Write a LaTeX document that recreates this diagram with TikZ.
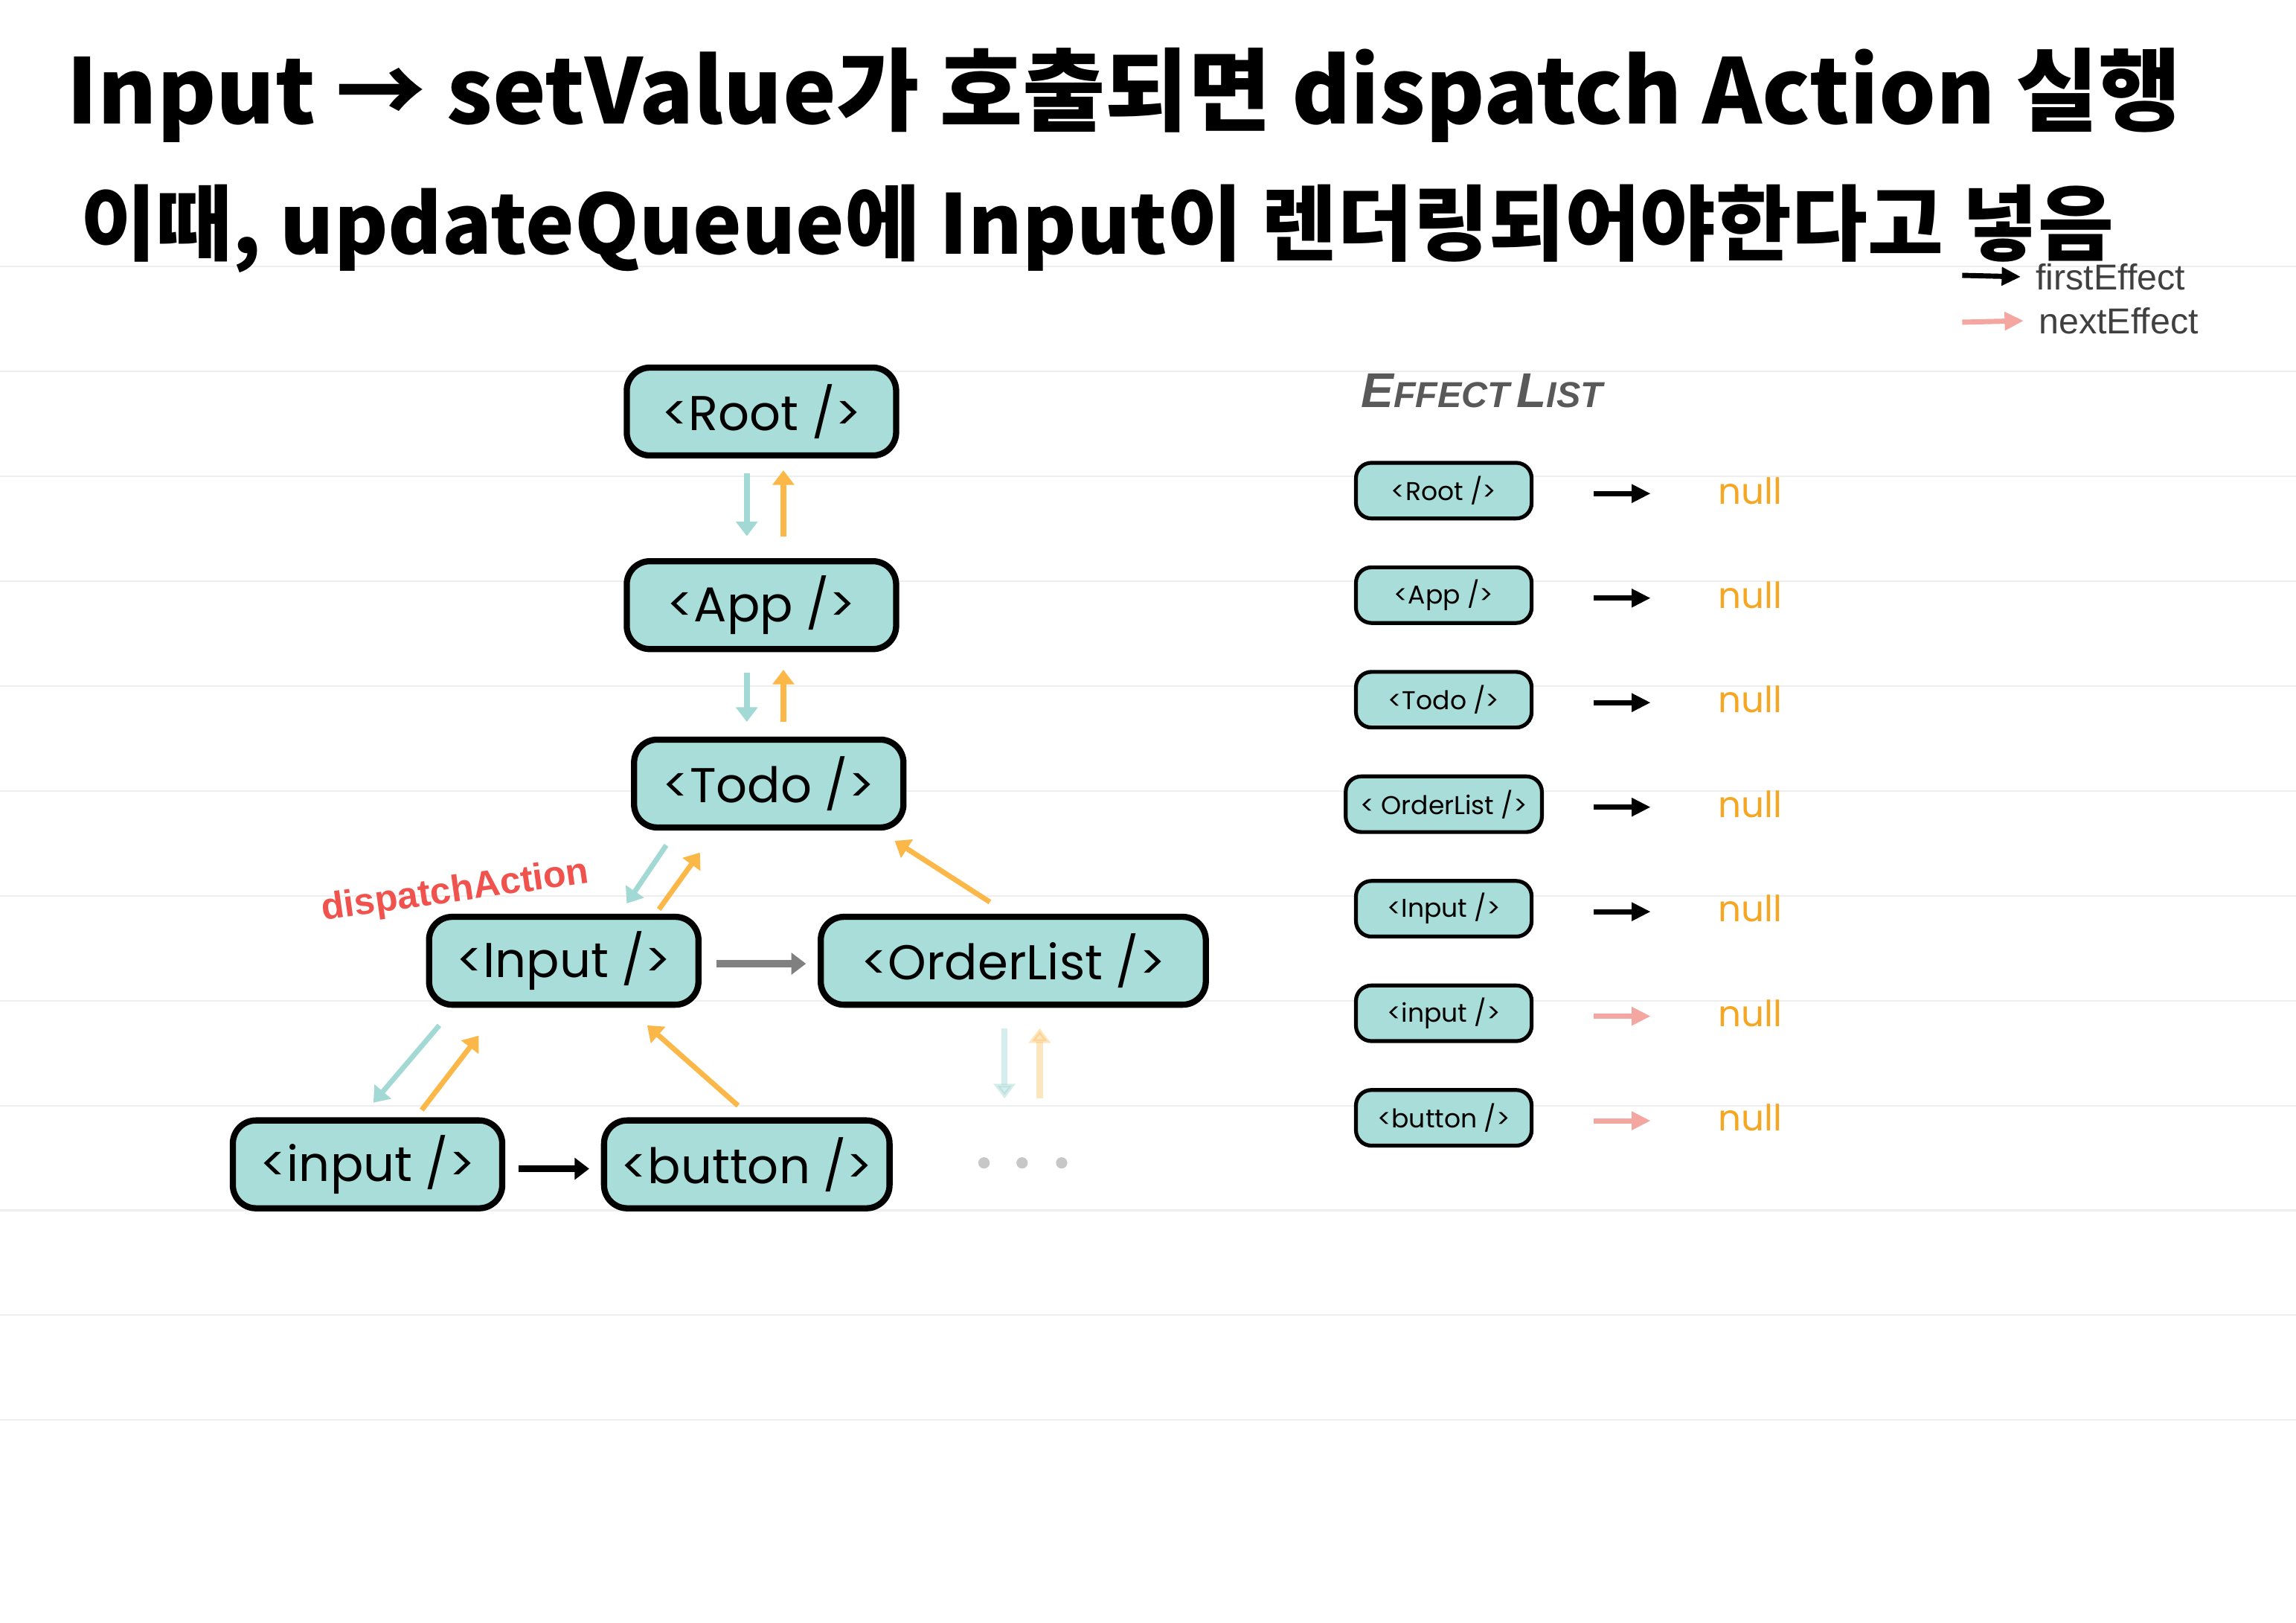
\documentclass[tikz,border=0pt]{standalone}
\usepackage{fontspec}
\usepackage{xcolor}
\usepackage{tikz}
\usetikzlibrary{arrows.meta,positioning}

\setmainfont{Poppins}
\newfontfamily\krfont{Noto Sans CJK KR}
\newfontfamily\labelfont{Liberation Sans}

\definecolor{fibteal}{HTML}{A8DDD9}
\definecolor{downteal}{HTML}{A3D9D5}
\definecolor{uporange}{HTML}{FBB848}
\definecolor{nullorange}{HTML}{F5A623}
\definecolor{dispred}{HTML}{F0524E}
\definecolor{nextpink}{HTML}{F4A6A1}
\definecolor{rulegray}{HTML}{EEEEEE}

\begin{document}
\begin{tikzpicture}[x=0.02cm,y=-0.02cm,
fibbox/.style={draw,line width=2.4pt,rounded corners=9pt,fill=fibteal,minimum width=3.68cm,minimum height=1.2cm,inner sep=2pt,font=\fontsize{19}{22}\selectfont},
effbox/.style={draw,line width=1.5pt,rounded corners=6pt,fill=fibteal,minimum width=2.4cm,minimum height=0.76cm,inner sep=0pt,font=\fontsize{10}{12}\selectfont},
downarr/.style={-{Triangle[length=2mm,width=2.9mm]},line width=2.4pt,downteal},
uparr/.style={-{Triangle[length=2mm,width=2.9mm]},line width=2.4pt,uporange},
sibarr/.style={-{Triangle[length=2mm,width=2.9mm]},line width=2.8pt},
firstarr/.style={-{Triangle[length=2.6mm,width=2.4mm]},line width=2pt,black},
nextarr/.style={firstarr,nextpink},
nul/.style={font=\fontsize{14}{16}\selectfont,text=nullorange,inner sep=0pt},
legend/.style={font=\labelfont\fontsize{14}{16}\selectfont,text=black!75,inner sep=0.2cm,anchor=west},
hand/.style={font=\krfont\bfseries\fontsize{35}{40}\selectfont,anchor=west,inner sep=0pt}]
\useasboundingbox (0,0) rectangle (1568,1108);
\fill[white] (0,0) rectangle (1568,1108);
% ruled paper
\foreach \k in {0,...,11}
  \draw[rulegray,line width=0.6pt] (0,182+71.6*\k) -- (1568,182+71.6*\k);

% handwritten note
\node[hand] (line1) at (45,65) {Input → setValue가 호출되면 dispatch Action 실행};
\node[hand,font=\krfont\bfseries\fontsize{32}{38}\selectfont] (line2) at (55,156) {이때, updateQueue에 Input이 렌더링되어야한다고 넣음};

% legend
\coordinate (lgfirst) at (1340,188);
\coordinate (lgnext) at (1340,220);
\node[legend] (lfirst) at (1380,189) {firstEffect};
\node[legend] (lnext) at (1382,219) {nextEffect};
\draw[firstarr] (lgfirst) -- (lfirst.west);
\draw[nextarr] (lgnext) -- (lnext.west);

% fiber tree
\node[fibbox] (root) at (520,281) {<Root />};
\node[fibbox,below=1.36cm of root] (app) {<App />};
\node[fibbox] (todo) at (525,535) {<Todo />};
\node[fibbox] (input) at (385,656) {<Input />};
\node[fibbox,minimum width=5.26cm] (order) at (692,656) {<OrderList />};
\node[fibbox] (inp) at (251,795) {<input />};
\node[fibbox,minimum width=3.9cm] (button) at (510,795) {<button />};
\coordinate (more) at (698,794);
\foreach \dx in {-26,0,27} \fill[black!22] (698+\dx,794) circle (2.2pt);
\node[font=\labelfont\bfseries\fontsize{14.5}{16}\selectfont,text=dispred,rotate=8] (dispatch) at (311,609) {dispatchAction};

\draw[downarr] ([shift={(-10,10)}]root.south) -- ([shift={(-10,-15)}]app.north);
\draw[uparr] ([shift={(15,-15)}]app.north) -- ([shift={(15,8)}]root.south);
\draw[downarr] ([shift={(-10,14)}]app.south) -- ([shift={(-15,-10)}]todo.north);
\draw[uparr] ([shift={(10,-10)}]todo.north) -- ([shift={(15,12)}]app.south);
\draw[downarr,line width=2pt] ([shift={(-70,10)}]todo.south) -- ([shift={(43,-7)}]input.north);
\draw[uparr,line width=2pt] ([shift={(65,-3)}]input.north) -- ([shift={(-47,15)}]todo.south);
\draw[uparr,line width=2pt] ([shift={(-16,-8)}]order.north) -- ([shift={(86,7)}]todo.south);
\draw[sibarr,black!50] ([shift={(10,2)}]input.east) -- ([shift={(-8,2)}]order.west);
\draw[downarr,line width=2pt] ([shift={(-85,12)}]input.south) -- ([shift={(4,-10)}]inp.north);
\draw[uparr,line width=2pt] ([shift={(37,-5)}]inp.north) -- ([shift={(-58,19)}]input.south);
\draw[uparr,line width=2pt] ([shift={(-6,-8)}]button.north) -- ([shift={(57,12)}]input.south);
\draw[sibarr,black] ([shift={(9,3)}]inp.east) -- ([shift={(-8,3)}]button.west);
\draw[downarr,opacity=.45] ([shift={(-6,14)}]order.south) -- ([shift={(-12,-44)}]more);
\draw[uparr,opacity=.35] ([shift={(12,-44)}]more) -- ([shift={(18,14)}]order.south);

% effect list
\node[font=\labelfont\bfseries\itshape,text=black!65] (efftitle) at (1012,267)
  {{\fontsize{19}{20}\selectfont E}{\fontsize{14}{16}\selectfont FFECT} {\fontsize{19}{20}\selectfont L}{\fontsize{14}{16}\selectfont IST}};
\node[effbox] (eroot) at (986,335) {<Root />};
\node[effbox,below=0.615cm of eroot] (eapp) {<App />};
\node[effbox,below=0.615cm of eapp] (etodo) {<Todo />};
\node[effbox,below=0.615cm of etodo,minimum width=2.68cm] (eorder) {< OrderList />};
\node[effbox,below=0.615cm of eorder] (einput) {<Input />};
\node[effbox,below=0.615cm of einput] (einp) {<input />};
\node[effbox,below=0.615cm of einp] (ebutton) {<button />};
\node[nul,right=2.52cm of eroot] (n1) {null};
\node[nul,right=2.52cm of eapp] (n2) {null};
\node[nul,right=2.52cm of etodo] (n3) {null};
\node[nul,right=2.38cm of eorder] (n4) {null};
\node[nul,right=2.52cm of einput] (n5) {null};
\node[nul,right=2.52cm of einp] (n6) {null};
\node[nul,right=2.52cm of ebutton] (n7) {null};
\draw[firstarr] ([shift={(41,2)}]eroot.east) -- ([shift={(-46,2)}]n1.west);
\draw[firstarr] ([shift={(41,2)}]eapp.east) -- ([shift={(-46,2)}]n2.west);
\draw[firstarr] ([shift={(41,2)}]etodo.east) -- ([shift={(-46,2)}]n3.west);
\draw[firstarr] ([shift={(34,2)}]eorder.east) -- ([shift={(-46,2)}]n4.west);
\draw[firstarr] ([shift={(41,2)}]einput.east) -- ([shift={(-46,2)}]n5.west);
\draw[nextarr] ([shift={(41,2)}]einp.east) -- ([shift={(-46,2)}]n6.west);
\draw[nextarr] ([shift={(41,2)}]ebutton.east) -- ([shift={(-46,2)}]n7.west);
\end{tikzpicture}
\end{document}
